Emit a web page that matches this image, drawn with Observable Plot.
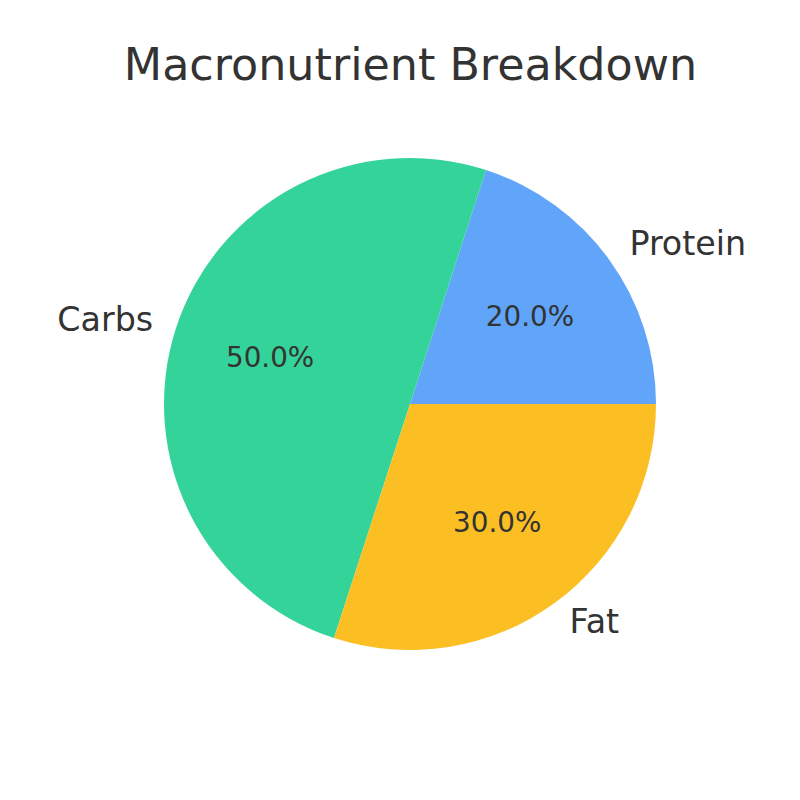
<!DOCTYPE html>
<html>
<head>
<meta charset="utf-8">
<script src="https://cdn.jsdelivr.net/npm/d3@7"></script>
<script src="https://cdn.jsdelivr.net/npm/@observablehq/plot@0.6"></script>
<style>
  html, body { margin: 0; padding: 0; background: #fff; }
</style>
</head>
<body>
<div id="chart"></div>
<script>
const categories = ["Protein", "Carbs", "Fat"];
const shares = [20, 50, 30];
const colors = ["#60a5fa", "#34d399", "#fbbf24"];
const chartTitle = "Macronutrient Breakdown";

const total = d3.sum(shares);
let acc = 0;
const slices = categories.map((name, i) => {
  const a0 = acc / total * 2 * Math.PI;
  acc += shares[i];
  const a1 = acc / total * 2 * Math.PI;
  const mid = (a0 + a1) / 2;
  return {
    name, value: shares[i], color: colors[i], a0, a1,
    lx: 1.1 * Math.cos(mid), ly: 1.1 * Math.sin(mid),
    px: 0.6 * Math.cos(mid), py: 0.6 * Math.sin(mid),
    pct: (shares[i] / total * 100).toFixed(1) + "%"
  };
});

const R = 246;
const font = "DejaVu Sans, sans-serif";

function pieMark(index, scales) {
  const cx = scales.x(0), cy = scales.y(0);
  const r = scales.x(1) - scales.x(0);
  const g = d3.create("svg:g").attr("transform", `translate(${cx},${cy})`);
  const arc = d3.arc().innerRadius(0).outerRadius(r);
  g.selectAll("path").data(slices).join("path")
    .attr("d", d => arc({startAngle: Math.PI / 2 - d.a1, endAngle: Math.PI / 2 - d.a0}))
    .attr("fill", d => d.color);
  return g.node();
}

const chart = Plot.plot({
  width: 800,
  height: 800,
  margin: 0,
  x: {domain: [-410 / R, 390 / R], axis: null},
  y: {domain: [-(800 - 404) / R, 404 / R], axis: null},
  style: {background: "#fff", fontFamily: font},
  marks: [
    pieMark,
    Plot.text(slices.filter(d => d.lx >= 0), {x: "lx", y: "ly", text: "name", textAnchor: "start", fontSize: 33.3, fill: "#333", fontFamily: font, dy: -1}),
    Plot.text(slices.filter(d => d.lx < 0), {x: "lx", y: "ly", text: "name", textAnchor: "end", fontSize: 33.3, fill: "#333", fontFamily: font, dy: -1}),
    Plot.text(slices, {x: "px", y: "py", text: "pct", textAnchor: "middle", fontSize: 27.8, fill: "#333", fontFamily: font, dy: -1}),
    Plot.text([chartTitle], {x: 0, y: (404 - 65.5) / R, text: d => d, textAnchor: "middle", fontSize: 44.4, fill: "#333", fontFamily: font})
  ]
});
document.getElementById("chart").appendChild(chart);
</script>
</body>
</html>
